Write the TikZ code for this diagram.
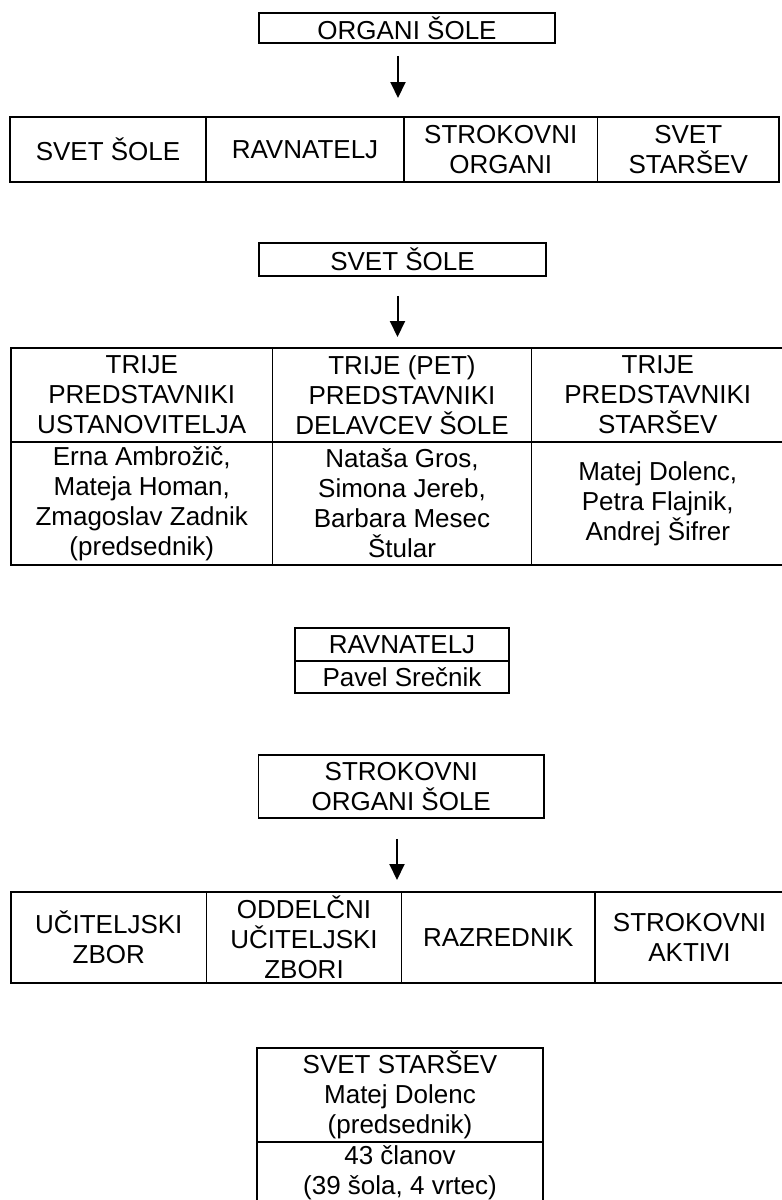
\documentclass[tikz,border=0pt]{standalone}
\usepackage{fontspec}
\setmainfont{Liberation Sans}
\usetikzlibrary{arrows.meta}

\begin{document}
\begin{tikzpicture}[x=1pt,y=-1pt,line width=1.6pt,
  every node/.style={font=\fontsize{26}{30}\selectfont,align=center,inner sep=0pt},
  box node/.style={draw,rectangle},
  arr/.style={-{Triangle[length=16pt,width=15pt]},line width=2pt}]
  \useasboundingbox (0,0) rectangle (782,1200);

  % organi sole
  \node[box node,minimum width=296pt,minimum height=30pt] (organi) at (407,28) {ORGANI ŠOLE};
  \node[box node,minimum width=196pt,minimum height=65pt] (r1a) at (108,149.5) {SVET ŠOLE};
  \node[box node,minimum width=198pt,minimum height=65pt] (r1b) at (305,149.5) {RAVNATELJ};
  \node[box node,minimum width=193.5pt,minimum height=65pt] (r1c) at (500.75,149.5) {STROKOVNI\\ORGANI};
  \node[box node,minimum width=181.5pt,minimum height=65pt] (r1d) at (688.25,149.5) {SVET\\STARŠEV};
  \coordinate (t1) at (398,117);

  % svet sole
  \node[box node,minimum width=287pt,minimum height=33pt] (svet) at (402.5,259.5) {SVET ŠOLE};
  \node[box node,minimum width=261.5pt,minimum height=94pt] (h2a) at (141.75,395) {TRIJE\\PREDSTAVNIKI\\USTANOVITELJA};
  \node[box node,minimum width=259pt,minimum height=94pt] (h2b) at (402,395) {TRIJE (PET)\\PREDSTAVNIKI\\DELAVCEV ŠOLE};
  \node[box node,minimum width=252.5pt,minimum height=94pt] (h2c) at (657.75,395) {TRIJE\\PREDSTAVNIKI\\STARŠEV};
  \node[box node,minimum width=261.5pt,minimum height=123pt] (m2a) at (141.75,503.5) {Erna Ambrožič,\\Mateja Homan,\\Zmagoslav Zadnik\\(predsednik)};
  \node[box node,minimum width=259pt,minimum height=123pt] (m2b) at (402,503.5) {Nataša Gros,\\Simona Jereb,\\Barbara Mesec\\Štular};
  \node[box node,minimum width=252.5pt,minimum height=123pt] (m2c) at (657.75,503.5) {Matej Dolenc,\\Petra Flajnik,\\Andrej Šifrer};
  \coordinate (t2) at (397.5,348);

  % ravnatelj
  \node[box node,minimum width=214pt,minimum height=33pt] (rav) at (402,644.5) {RAVNATELJ};
  \node[box node,minimum width=214pt,minimum height=32pt] (ravime) at (402,677) {Pavel Srečnik};

  % strokovni organi
  \node[box node,minimum width=285.5pt,minimum height=63pt] (strok) at (401.25,786.5) {STROKOVNI\\ORGANI ŠOLE};
  \node[box node,minimum width=195.5pt,minimum height=91pt] (r3a) at (108.75,937.5) {UČITELJSKI\\ZBOR};
  \node[box node,minimum width=195pt,minimum height=91pt] (r3b) at (304,937.5) {ODDELČNI\\UČITELJSKI\\ZBORI};
  \node[box node,minimum width=193.5pt,minimum height=91pt] (r3c) at (498.25,937.5) {RAZREDNIK};
  \node[box node,minimum width=189pt,minimum height=91pt] (r3d) at (689.5,937.5) {STROKOVNI\\AKTIVI};
  \coordinate (t3) at (397,892);

  % svet starsev
  \node[box node,minimum width=286pt,minimum height=94pt] (starsev) at (400,1095) {SVET STARŠEV\\Matej Dolenc\\(predsednik)};
  \node[box node,minimum width=286pt,minimum height=62pt] (clani) at (400,1173) {43 članov\\(39 šola, 4 vrtec)};

  \draw[arr,shorten <=12pt,shorten >=19pt] (organi.south -| t1) -- (t1);
  \draw[arr,shorten <=19pt,shorten >=11pt] (svet.south -| t2) -- (t2);
  \draw[arr,shorten <=20pt,shorten >=12pt] (strok.south -| t3) -- (t3);
\end{tikzpicture}
\end{document}
